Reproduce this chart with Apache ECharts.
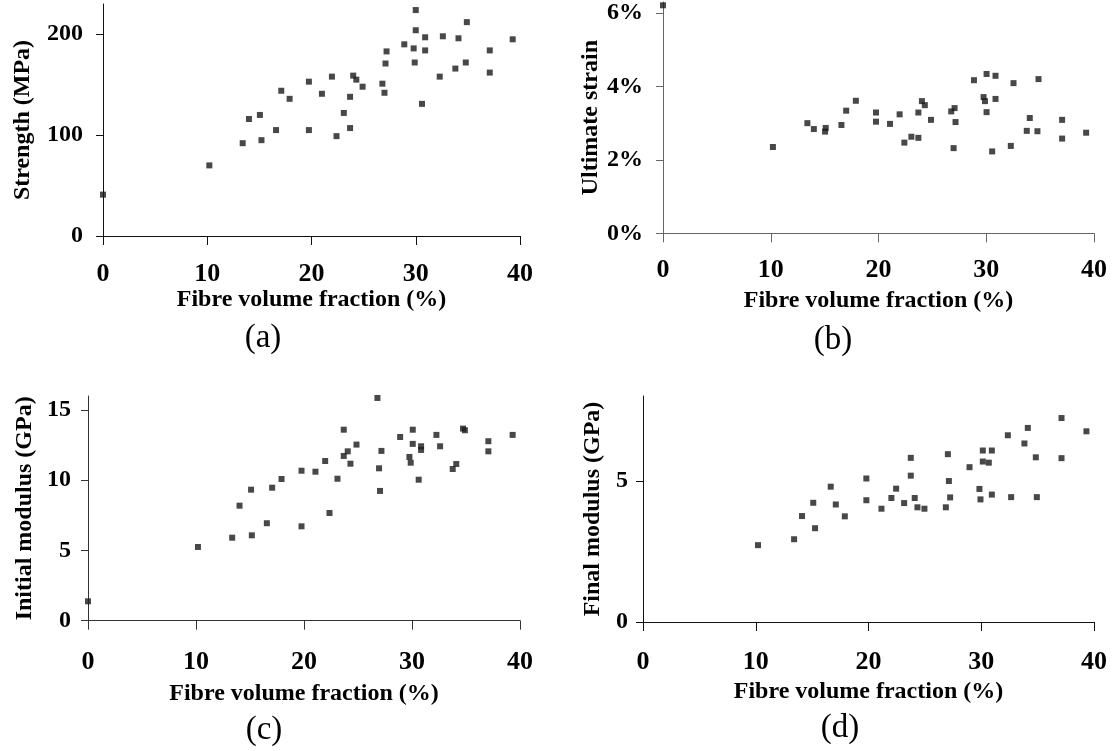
<!DOCTYPE html>
<html><head><meta charset="utf-8">
<script src="https://cdn.jsdelivr.net/npm/echarts@6/dist/echarts.min.js"></script>
<style>html,body{margin:0;padding:0;background:#fff}#c{width:1115px;height:751px}</style>
</head><body><div id="c"></div>
<script>
// Fibre volume fraction (%) ticks
const xTicks = [0, 10, 20, 30, 40];

// (a) Strength (MPa)
const fibreA = [0,10.2,13.4,14.0,15.05,15.2,16.6,17.1,17.9,19.75,19.75,21.0,21.96,22.4,23.1,23.7,23.7,24.0,24.3,24.9,26.8,27.0,27.1,27.2,28.9,29.8,29.9,30.0,30.0,30.6,30.9,30.9,32.3,32.6,33.8,34.1,34.8,34.9,37.1,37.1,39.3];
const strength = [41,70,92,116,120,95,105,144,136,153,105,141,158,99,122,138,107,159,155,148,151,142,171,183,190,186,172,224,204,131,197,184,158,198,166,196,172,212,184,162,195];
const strengthTicks = [0, 100, 200];

// (b) Ultimate strain (%)
const fibreB = [0,10.2,13.4,14.0,15.04,15.1,16.56,17.0,17.9,19.77,19.77,21.07,21.96,22.4,23.05,23.7,23.7,24.03,24.3,24.87,26.75,26.97,27.06,27.15,28.86,29.75,29.88,30.03,30.03,30.55,30.86,30.86,32.28,32.53,33.76,34.04,34.75,34.85,37.04,37.04,39.27];
const strain = [6.21,2.35,3.0,2.84,2.77,2.87,2.95,3.34,3.61,3.29,3.04,2.98,3.24,2.47,2.63,3.29,2.6,3.6,3.49,3.09,3.32,2.32,3.41,3.03,4.17,3.71,3.6,4.34,3.3,2.23,4.29,3.66,2.38,4.09,2.79,3.14,2.78,4.2,3.09,2.58,2.74];
const strainTicks = [0, 2, 4, 6];

// (c) Initial modulus (GPa)
const fibreC = [0,10.18,13.35,14.03,15.1,15.17,16.56,17.05,17.92,19.77,19.77,21.06,21.96,22.36,23.1,23.68,23.68,24.05,24.3,24.86,26.8,26.95,27.04,27.17,28.9,29.76,29.88,30.07,30.07,30.62,30.84,30.84,32.26,32.6,33.77,34.1,34.72,34.9,37.07,37.07,39.32];
const initialModulus = [1.38,5.25,5.91,8.19,9.33,6.08,6.94,9.47,10.09,10.68,6.72,10.61,11.37,7.67,10.11,13.6,11.73,12.06,11.18,12.54,15.86,10.85,9.24,12.09,13.08,11.66,11.25,13.6,12.59,10.04,12.42,12.16,13.23,12.42,10.8,11.16,13.68,13.56,12.78,12.06,13.23];
const initialTicks = [0, 5, 10, 15];

// (d) Final modulus (GPa)
const fibreD = [10.2,13.4,14.1,15.1,15.26,16.65,17.1,17.9,19.81,19.81,21.15,22.03,22.45,23.16,23.75,23.75,24.1,24.34,24.96,26.86,27.04,27.13,27.24,28.96,29.84,29.93,30.14,30.14,30.67,30.94,30.94,32.36,32.65,33.83,34.13,34.84,34.93,37.12,37.12,39.33];
const finalModulus = [2.72,2.93,3.75,4.22,3.32,4.79,4.16,3.74,5.08,4.31,4.01,4.39,4.72,4.21,5.81,5.18,4.39,4.06,4.01,4.06,5.94,4.99,4.41,5.48,4.71,4.34,6.07,5.68,5.64,6.07,4.51,6.61,4.42,6.32,6.87,5.83,4.42,7.22,5.8,6.75];
const finalTicks = [0, 5];

const pair = (xs, ys) => xs.map((x, i) => [x, ys[i]]);
const SERIF = '"Liberation Serif", "Times New Roman", serif';

const panels = [
  {grid:{left:103, top:4, width:417, height:232}, ymax:230, yt:strengthTicks, yname:'Strength (MPa)', yfmt:v=>v, data:pair(fibreA,strength), col:'#111', yGap:68, yMargin:20, xMargin:25, xGap:52, lab:'(a)', lx:263, ly:338},
  {grid:{left:663, top:2, width:431, height:231.3}, ymax:6.3, yt:strainTicks, yname:'Ultimate strain', yfmt:v=>v+'%', data:pair(fibreB,strain), col:'#666', yGap:56, yMargin:20, xMargin:24, xGap:55, lab:'(b)', lx:833, ly:340},
  {grid:{left:88, top:396, width:432, height:224.7}, ymax:16, yt:initialTicks, yname:'Initial modulus (GPa)', yfmt:v=>v, data:pair(fibreC,initialModulus), col:'#333', yGap:51, yMargin:17, xMargin:29, xGap:61, lab:'(c)', lx:264, ly:730},
  {grid:{left:643, top:396, width:451, height:226}, ymax:8, yt:finalTicks, yname:'Final modulus (GPa)', yfmt:v=>v, data:pair(fibreD,finalModulus), col:'#111', yGap:38, yMargin:15, xMargin:27, xGap:58, lab:'(d)', lx:840, ly:728}
];

const option = {
  backgroundColor:'#fff',
  animation:false,
  grid: panels.map(p => Object.assign({containLabel:false}, p.grid)),
  xAxis: panels.map((p, i) => ({
    type:'value', gridIndex:i, min:0, max:40, interval:10,
    axisLine:{show:true, onZero:false, lineStyle:{color:p.col, width:1}},
    axisTick:{show:true, length:9, customValues:xTicks, lineStyle:{color:p.col, width:1}},
    splitLine:{show:false},
    axisLabel:{customValues:xTicks, color:'#000', fontFamily:SERIF, fontWeight:'bold', fontSize:26, margin:p.xMargin},
    name:'Fibre volume fraction (%)', nameLocation:'middle', nameGap:p.xGap,
    nameTextStyle:{color:'#000', fontFamily:SERIF, fontWeight:'bold', fontSize:24}
  })),
  yAxis: panels.map((p, i) => ({
    type:'value', gridIndex:i, min:0, max:p.ymax,
    axisLine:{show:true, lineStyle:{color:p.col, width:1}},
    axisTick:{show:true, length:7, customValues:p.yt, lineStyle:{color:p.col, width:1}},
    splitLine:{show:false},
    axisLabel:{customValues:p.yt, formatter:p.yfmt, color:'#000', fontFamily:SERIF, fontWeight:'bold', fontSize:24, margin:p.yMargin},
    name:p.yname, nameLocation:'middle', nameGap:p.yGap,
    nameTextStyle:{color:'#000', fontFamily:SERIF, fontWeight:'bold', fontSize:24}
  })),
  series: panels.map((p, i) => ({
    type:'scatter', xAxisIndex:i, yAxisIndex:i, data:p.data,
    symbol:'rect', symbolSize:6, clip:false,
    itemStyle:{color:'#1a1a1a'}
  })),
  graphic: panels.map(p => ({
    type:'text', x:p.lx, y:p.ly,
    style:{text:p.lab, font:'33px ' + SERIF, fill:'#000', textAlign:'center', textVerticalAlign:'middle'}
  }))
};
echarts.init(document.getElementById('c'), null, {renderer:'canvas'}).setOption(option);
</script>
</body></html>
